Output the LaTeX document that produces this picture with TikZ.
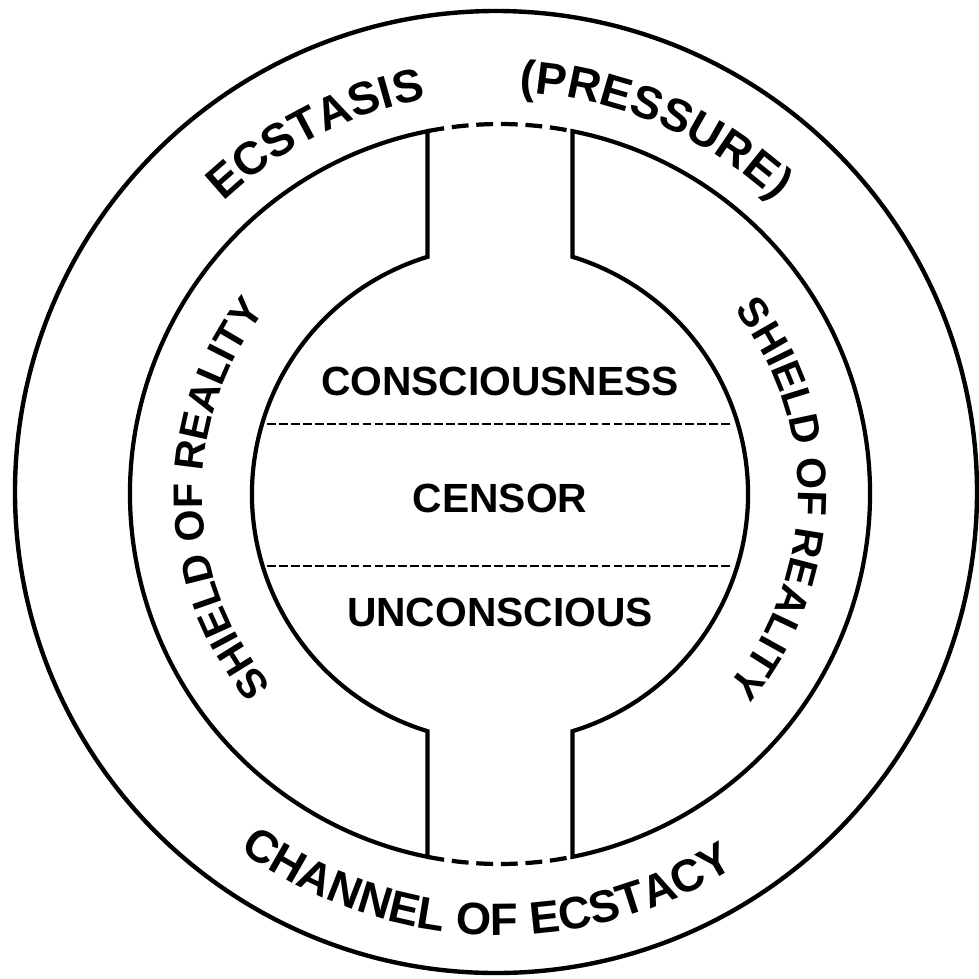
\documentclass[tikz,border=0pt]{standalone}
\usepackage{fontspec}
\setmainfont{Liberation Sans}
\usetikzlibrary{decorations.text}
\newcommand{\ringfnt}{\bfseries\fontsize{13.1}{15}\selectfont}
\newcommand{\chanfnt}{\bfseries\fontsize{12.9}{15}\selectfont}
\newcommand{\shieldfnt}{\bfseries\fontsize{11.7}{14}\selectfont}

\begin{document}
\begin{tikzpicture}[
  ring/.style={line width=1.25pt},
  wall/.style={line width=1.2pt, line join=miter},
  gapline/.style={line width=1.2pt, dash pattern=on 4.8pt off 2.2pt},
  divline/.style={line width=0.75pt, dash pattern=on 2.5pt off 0.9pt},
  lbl/.style={font=\bfseries\fontsize{11.6}{14}\selectfont, inner sep=0pt}
]
  \useasboundingbox (-5.00,-4.84) rectangle (4.79,4.94);
  \draw[ring] (-0.04,0.02) circle[radius=4.81];
  \draw[wall] (101.3:3.7) arc[start angle=101.3, end angle=258.7, radius=3.7] -- (253:2.48) arc[start angle=253, end angle=107, radius=2.48] -- cycle;
  \draw[wall] (78.7:3.7) arc[start angle=78.7, end angle=-78.7, radius=3.7] -- (-73:2.48) arc[start angle=-73, end angle=73, radius=2.48] -- cycle;
  \draw[gapline] (101.3:3.7) arc[start angle=101.3, end angle=78.7, radius=3.7];
  \draw[gapline] (258.7:3.7) arc[start angle=258.7, end angle=281.3, radius=3.7];
  \draw[divline] (-2.33,0.70) -- (2.33,0.70);
  \draw[divline] (-2.33,-0.72) -- (2.33,-0.72);
  \node[lbl] (cons) at (0,1.13) {CONSCIOUSNESS};
  \node[lbl] (censor) at (0,-0.04) {CENSOR};
  \node[lbl] (uncons) at (0,-1.18) {UNCONSCIOUS};
  \path[decorate, decoration={text along path, text align=center, text={|\ringfnt|ECSTASIS}}] (147:4.02) arc[start angle=147, end angle=87, radius=4.02];
  \path[decorate, decoration={text along path, text align=center, text={|\ringfnt|(PRESSURE)}}] (97:4.02) arc[start angle=97, end angle=37, radius=4.02];
  \path[decorate, decoration={text along path, text align=center, text={|\chanfnt|CHANNEL OF ECSTACY}}] (218:4.41) arc[start angle=218, end angle=318, radius=4.41];
  \path[decorate, decoration={text along path, text align=center, text={|\shieldfnt|SHIELD OF REALITY}}] (231:2.98) arc[start angle=231, end angle=131, radius=2.98];
  \path[decorate, decoration={text along path, text align=center, text={|\shieldfnt|SHIELD OF REALITY}}] (49:2.98) arc[start angle=49, end angle=-51, radius=2.98];
\end{tikzpicture}
\end{document}
